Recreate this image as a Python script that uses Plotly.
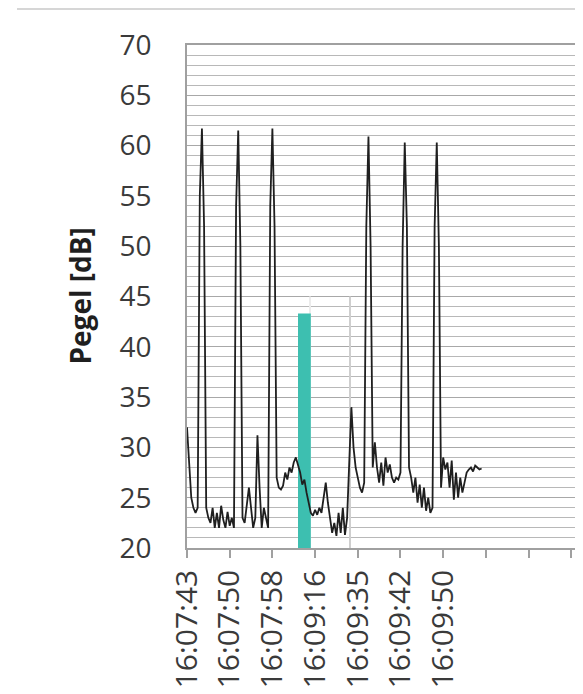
import plotly.graph_objects as go

# ---- data ----
tick_labels = ["16:07:43", "16:07:50", "16:07:58", "16:09:16", "16:09:35",
               "16:09:42", "16:09:50", "", "", ""]
samples_per_tick = 20

pegel_db = [
    32, 29, 25, 24, 23.5, 24, 55, 61.7, 52, 24,
    23, 22.5, 24, 22, 23.5, 22, 24.2, 22.8, 22, 23.6,
    22.2, 23, 22, 54, 61.5, 50, 23, 22.5, 24, 26,
    24, 22, 23, 31.2, 26, 22, 24, 23, 22, 54,
    61.7, 52, 27, 26, 25.8, 26.2, 27.5, 26.8, 28, 27.5,
    28.5, 29, 28.2, 27.5, 26.3, 26.8, 25.5, 24.5, 23.5, 23.2,
    23.8, 23.3, 24, 23.5, 25, 26.5, 24.5, 22.8, 21.5, 22.5,
    21.2, 23.5, 21.5, 24, 21.3, 23, 28, 34, 30, 28,
    27, 26, 25.5, 26.5, 52, 60.9, 50, 28, 30.5, 28,
    26.5, 28.5, 26.2, 29, 27.5, 28.3, 27, 26.5, 27, 26.8,
    27.5, 50, 60.3, 52, 28, 27, 25.5, 27, 24.5, 26.3,
    24, 26, 23.7, 25, 23.5, 24, 52, 60.3, 50, 26,
    29, 27.8, 28.5, 26, 28.7, 24.8, 27.5, 25, 27, 25.5,
    26.5, 27.5, 27.8, 28, 27.6, 28.2, 28, 27.8, 27.9,
]
sample_index = list(range(len(pegel_db)))

marker_pos = [55]        # highlighted sample (teal bar)
marker_val = [43.3]
ref_pos = [57.5, 76.3]   # thin grey reference lines
ref_val = [45, 45]
ref_colors = ["#ececec", "#cfcfcf"]

y_range = [20, 70]
y_ticks = [20, 25, 30, 35, 40, 45, 50, 55, 60, 65, 70]

# ---- figure ----
OFF = 8  # page body offset
L, T = 187 - OFF, 45 - OFF
PW, PH = 396, 503
W = 583 - OFF
H = 694 - OFF
B = H - T - PH

fig = go.Figure()

fig.add_trace(go.Bar(
    x=ref_pos, y=ref_val, width=0.4,
    marker=dict(color=ref_colors, line=dict(width=0)),
    showlegend=False, hoverinfo="skip",
))
fig.add_trace(go.Bar(
    x=marker_pos, y=marker_val, width=6,
    marker=dict(color="#3dbfb0", line=dict(width=0)),
    showlegend=False,
))
fig.add_trace(go.Scatter(
    x=sample_index, y=pegel_db, mode="lines",
    line=dict(color="#1f1f1f", width=1.8),
    showlegend=False,
))

tickvals = [i * samples_per_tick for i in range(len(tick_labels))]

fig.update_layout(
    width=W, height=H,
    margin=dict(l=L, r=0, t=T, b=B, autoexpand=False),
    paper_bgcolor="white", plot_bgcolor="white",
    barmode="overlay",
    font=dict(family="Open Sans", color="#404040"),
    xaxis=dict(
        range=[0, 185.5],
        tickmode="array", tickvals=tickvals, ticktext=tick_labels,
        tickangle=-90, tickfont=dict(size=30, color="#3a3a3a"),
        ticks="outside", ticklen=8, tickcolor="#a0a0a0", tickwidth=1.5,
        showgrid=False, zeroline=False,
        showline=True, linecolor="#a0a0a0", linewidth=1.5, mirror=True,
    ),
    yaxis=dict(
        range=y_range,
        tickmode="array", tickvals=y_ticks,
        tickfont=dict(size=28, color="#3a3a3a"),
        ticklabelstandoff=28,
        showgrid=True, gridcolor="#a8a8a8", gridwidth=1.2,
        minor=dict(dtick=1, showgrid=True, gridcolor="#b8b8b8", gridwidth=1.2),
        zeroline=False,
        showline=True, linecolor="#a0a0a0", linewidth=1.5,
    ),
    annotations=[dict(
        text="<b>Pegel [dB]</b>", textangle=-90,
        xref="paper", yref="paper", x=(79 - 187) / PW, y=0.5,
        xanchor="center", yanchor="middle", showarrow=False,
        font=dict(size=28, color="#1f1f1f", family="Open Sans"),
    )],
    shapes=[dict(
        type="line", xref="paper", yref="paper",
        x0=(17 - 187) / PW, x1=1.0,
        y0=(T + PH - 1) / PH, y1=(T + PH - 1) / PH,
        line=dict(color="#d6d6d6", width=2),
    )],
)

fig.write_html("out.html")
